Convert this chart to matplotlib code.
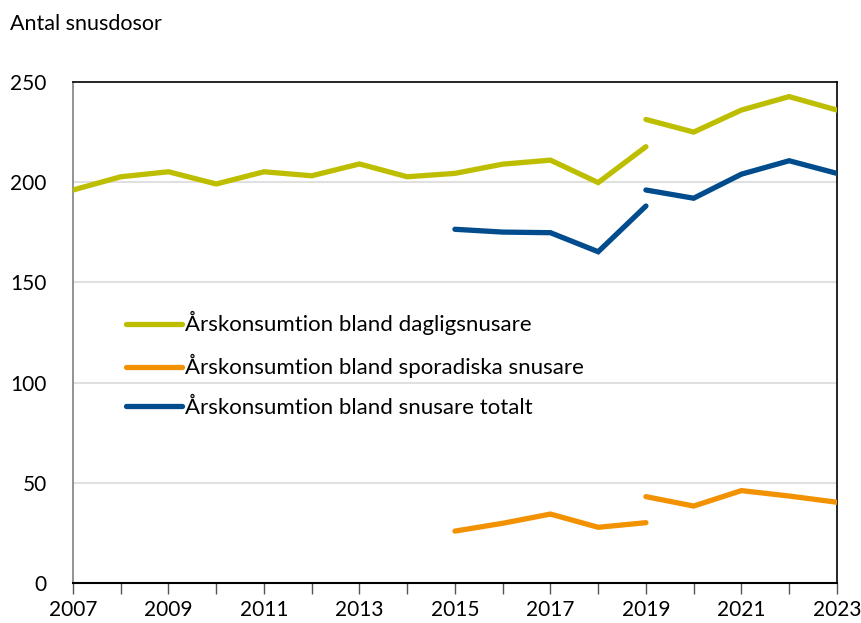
import matplotlib.pyplot as plt
from matplotlib import rcParams

rcParams.update({
    "font.family": ["Lato", "DejaVu Sans"],
    "font.size": 15,
})

# data, old method up to 2019, new method from 2019
years_old = [2007, 2008, 2009, 2010, 2011, 2012, 2013, 2014, 2015, 2016, 2017, 2018, 2019]
daily_old = [196.1, 202.7, 205.2, 199.1, 205.2, 203.2, 209.1, 202.7, 204.4, 209.0, 211.0, 199.8, 217.7]

years_old_short = [2015, 2016, 2017, 2018, 2019]
sporadic_old = [25.9, 29.8, 34.4, 27.8, 30.1]
total_old = [176.5, 175.1, 174.8, 165.3, 188.1]

years_new = [2019, 2020, 2021, 2022, 2023]
daily_new = [231.3, 225.0, 236.0, 242.7, 236.0]
sporadic_new = [43.1, 38.4, 46.1, 43.4, 40.3]
total_new = [196.1, 192.0, 204.0, 210.7, 204.4]

c_daily = '#BEBE00'
c_spor = '#F39200'
c_total = '#004C8C'
lw = 3.8

fig = plt.figure(figsize=(8.61, 6.23), dpi=100)
ax = fig.add_axes([0.0848, 0.0642, 0.8872, 0.8042])

kw = dict(linewidth=lw, solid_capstyle='round', solid_joinstyle='miter', zorder=3)
ax.plot(years_old, daily_old, color=c_daily, label='Årskonsumtion bland dagligsnusare', **kw)
ax.plot(years_new, daily_new, color=c_daily, **kw)
ax.plot(years_old_short, sporadic_old, color=c_spor, label='Årskonsumtion bland sporadiska snusare', **kw)
ax.plot(years_new, sporadic_new, color=c_spor, **kw)
ax.plot(years_old_short, total_old, color=c_total, label='Årskonsumtion bland snusare totalt', **kw)
ax.plot(years_new, total_new, color=c_total, **kw)

ax.set_xlim(2007, 2023)
ax.set_ylim(0, 250)
ax.set_yticks([0, 50, 100, 150, 200, 250])
ax.set_xticks(range(2007, 2024, 2))
ax.set_xticks(range(2007, 2024), minor=True)
ax.tick_params(axis='y', length=0, pad=19, labelsize=15)
ax.tick_params(axis='x', which='both', direction='out', length=8, width=1, color='#555555', pad=4, labelsize=15)

for y in [50, 100, 150, 200]:
    ax.axhline(y, color='#E0E0E0', linewidth=1.5, zorder=1)

ax.spines['left'].set_color('#808080')
ax.spines['left'].set_linewidth(1.2)
ax.spines['bottom'].set_color('black')
ax.spines['bottom'].set_linewidth(1.5)
ax.spines['top'].set_linewidth(1.2)
ax.spines['right'].set_linewidth(1.2)

fig.text(0.012, 0.962, 'Antal snusdosor', fontsize=15.5, ha='left', va='center')

ax.legend(loc='upper left', bbox_to_anchor=(0.058, 0.56), frameon=False, fontsize=16,
          handlelength=2.5, handletextpad=0.15, labelspacing=0.85, borderaxespad=0)

fig.savefig('out.png', dpi=100)
